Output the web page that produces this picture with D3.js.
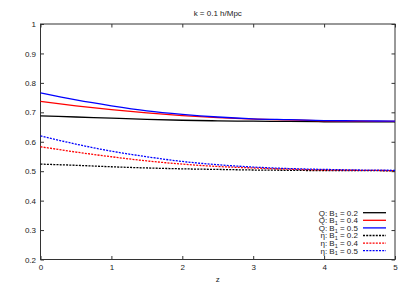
<!DOCTYPE html>
<html>
<head>
<meta charset="utf-8">
<script src="https://cdn.jsdelivr.net/npm/d3@7"></script>
<style>
  body { margin: 0; background: #fff; }
  text { font-family: "Liberation Sans", Arial, sans-serif; font-size: 8px; fill: #222; }
</style>
</head>
<body>
<svg id="chart" width="407" height="285"></svg>
<script>
// redshift samples and curves
const zValues = [0, 0.5, 1, 1.5, 2, 2.5, 3, 3.5, 4, 4.5, 5];

const qB02 = [0.688, 0.684, 0.680, 0.676, 0.673, 0.671, 0.670, 0.669, 0.668, 0.668, 0.668];
const qB04 = [0.737, 0.722, 0.709, 0.698, 0.689, 0.682, 0.677, 0.674, 0.671, 0.670, 0.669];
const qB05 = [0.766, 0.742, 0.722, 0.705, 0.693, 0.684, 0.678, 0.675, 0.672, 0.671, 0.670];
const etaB02 = [0.524, 0.520, 0.515, 0.511, 0.508, 0.506, 0.504, 0.503, 0.502, 0.502, 0.501];
const etaB04 = [0.583, 0.565, 0.549, 0.535, 0.524, 0.516, 0.511, 0.507, 0.504, 0.503, 0.502];
const etaB05 = [0.620, 0.592, 0.568, 0.549, 0.533, 0.522, 0.514, 0.509, 0.506, 0.504, 0.503];

const seriesNames = ['Q', 'Q', 'Q', 'η', 'η', 'η'];
const seriesB1 = ['0.2', '0.4', '0.5', '0.2', '0.4', '0.5'];
const seriesValues = [qB02, qB04, qB05, etaB02, etaB04, etaB05];

const xTicks = [0, 1, 2, 3, 4, 5];
const yTicks = [0.2, 0.3, 0.4, 0.5, 0.6, 0.7, 0.8, 0.9, 1];

const COLORS = ['#000000', '#ff0000', '#0000ff', '#000000', '#ff0000', '#0000ff'];
const DASHED = [false, false, false, true, true, true];

const PLOT_LEFT_PX = 40.5;
const PLOT_RIGHT_PX = 395;
const PLOT_TOP_PX = 24;
const PLOT_BOTTOM_PX = 259.5;
const TICK_LEN_PX = 3.5;

const LINE_WIDTH_PX = 1.3;
const DASH = '2,1.2';

const LEGEND_TEXT_RIGHT_PX = 358;
const LEGEND_LINE_LEFT_PX = 363;
const LEGEND_LINE_RIGHT_PX = 386;
const LEGEND_TOP_PX = 212.7;
const LEGEND_ROW_PX = 7.6;

const svg = d3.select('#chart');

const x = d3.scaleLinear().domain([0, 5]).range([PLOT_LEFT_PX, PLOT_RIGHT_PX]);
const y = d3.scaleLinear().domain([0.2, 1]).range([PLOT_BOTTOM_PX, PLOT_TOP_PX]);

// gnuplot style: ticks point inward, mirrored on top and right
const axes = [
  { axis: d3.axisBottom(x).tickValues(xTicks).tickSizeInner(-TICK_LEN_PX).tickPadding(5).tickFormat(d3.format('d')),
    at: `translate(0,${PLOT_BOTTOM_PX})`, labels: true },
  { axis: d3.axisTop(x).tickValues(xTicks).tickSizeInner(-TICK_LEN_PX),
    at: `translate(0,${PLOT_TOP_PX})`, labels: false },
  { axis: d3.axisLeft(y).tickValues(yTicks).tickSizeInner(-TICK_LEN_PX).tickPadding(4.5).tickFormat(d => d === 1 ? '1' : d3.format('.1f')(d)),
    at: `translate(${PLOT_LEFT_PX},0)`, labels: true },
  { axis: d3.axisRight(y).tickValues(yTicks).tickSizeInner(-TICK_LEN_PX),
    at: `translate(${PLOT_RIGHT_PX},0)`, labels: false }
];

axes.forEach(a => {
  const g = svg.append('g')
    .attr('transform', a.at)
    .call(a.axis.tickSizeOuter(0));
  g.select('.domain').remove();
  g.selectAll('.tick line').attr('stroke', '#333').attr('stroke-width', 1);
  if (a.labels) {
    g.selectAll('.tick text')
      .attr('fill', '#222')
      .style('font-size', '8px')
      .style('font-family', '"Liberation Sans", Arial, sans-serif');
  } else {
    g.selectAll('.tick text').remove();
  }
});

svg.append('rect')
  .attr('x', PLOT_LEFT_PX)
  .attr('y', PLOT_TOP_PX)
  .attr('width', PLOT_RIGHT_PX - PLOT_LEFT_PX)
  .attr('height', PLOT_BOTTOM_PX - PLOT_TOP_PX)
  .attr('fill', 'none')
  .attr('stroke', '#333')
  .attr('stroke-width', 1);

const line = d3.line()
  .x((d, i) => x(zValues[i]))
  .y(d => y(d))
  .curve(d3.curveMonotoneX);

seriesValues.forEach((vals, i) => {
  svg.append('path')
    .datum(vals)
    .attr('d', line)
    .attr('fill', 'none')
    .attr('stroke', COLORS[i])
    .attr('stroke-width', LINE_WIDTH_PX)
    .attr('stroke-dasharray', DASHED[i] ? DASH : null);
});

svg.append('text')
  .attr('x', (PLOT_LEFT_PX + PLOT_RIGHT_PX) / 2)
  .attr('y', 16)
  .attr('text-anchor', 'middle')
  .text('k = 0.1 h/Mpc');

svg.append('text')
  .attr('x', (PLOT_LEFT_PX + PLOT_RIGHT_PX) / 2)
  .attr('y', 282)
  .attr('text-anchor', 'middle')
  .text('z');

// legend, bottom right inside the frame
const legend = svg.append('g');
seriesNames.forEach((name, i) => {
  const rowY = LEGEND_TOP_PX + i * LEGEND_ROW_PX;
  const label = legend.append('text')
    .attr('x', LEGEND_TEXT_RIGHT_PX)
    .attr('y', rowY + 2.8)
    .attr('text-anchor', 'end');
  label.append('tspan').text(`${name}: B`);
  label.append('tspan').attr('dy', 1.8).style('font-size', '5.5px').text('1');
  label.append('tspan').attr('dy', -1.8).text(` = ${seriesB1[i]}`);

  legend.append('line')
    .attr('x1', LEGEND_LINE_LEFT_PX)
    .attr('x2', LEGEND_LINE_RIGHT_PX)
    .attr('y1', rowY)
    .attr('y2', rowY)
    .attr('stroke', COLORS[i])
    .attr('stroke-width', LINE_WIDTH_PX)
    .attr('stroke-dasharray', DASHED[i] ? DASH : null);
});
</script>
</body>
</html>
